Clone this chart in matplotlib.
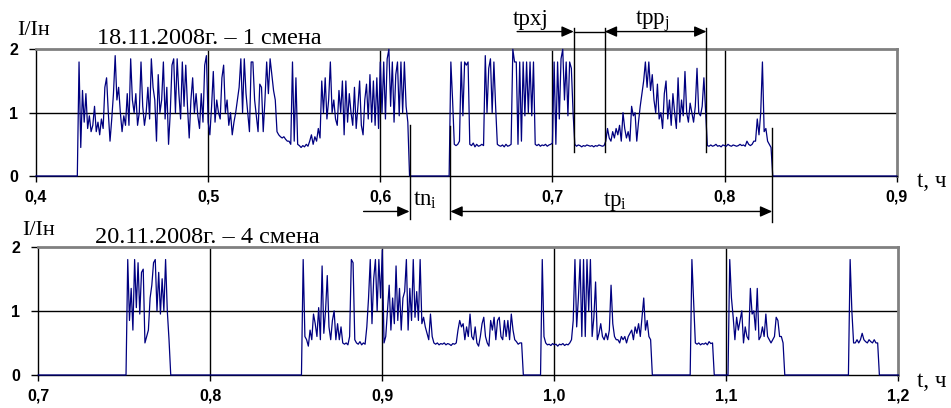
#! /usr/bin/env python3
"""Current load I/In of a machine during two shifts (18.11.2008 and 20.11.2008)."""

import matplotlib.pyplot as plt
import numpy as np

plt.rcParams.update({
    "font.family": "Liberation Serif",
    "mathtext.fontset": "custom",
    "mathtext.rm": "Liberation Serif",
    "mathtext.it": "Liberation Serif:italic",
})

W, H = 951, 408
LINE = "#000080"
GREY = "#808080"

# --- data: time step 0.001 h, each burst starts at the given time ---------
step = 0.001

top_range = (0.4, 0.9)
top_ticks = [0.4, 0.5, 0.6, 0.7, 0.8, 0.9]
top_title = "18.11.2008г. – 1 смена"
top_bursts = {
    0.425: [
        1.80, 0.45, 1.35, 0.85, 1.30, 0.75, 0.95, 0.70, 0.80, 1.10,
        0.70, 0.85, 0.65, 0.90, 0.75, 1.40, 1.55, 1.00, 0.55, 0.90,
        1.30, 1.90, 1.20, 1.40, 1.00, 0.70, 0.95, 0.80, 1.30, 0.80,
        1.85, 1.20, 1.00, 1.30, 0.80, 1.00, 1.80, 1.10, 0.80, 1.00,
        1.40, 0.90, 1.85, 1.40, 1.20, 0.55, 1.60, 1.00, 1.20, 1.80,
        0.90, 1.40, 0.50, 1.00, 1.75, 1.85, 1.00, 1.85, 1.30, 0.90,
        1.80, 1.10, 1.75, 1.10, 0.60, 1.20, 1.55, 1.00, 1.30, 0.95,
        0.75, 1.30, 0.85, 1.75, 1.90, 0.85, 0.65, 1.10, 1.65, 0.85,
        1.20, 1.00, 0.90, 1.55, 1.75, 1.00, 1.20, 0.80, 1.00, 0.65,
        0.85, 1.00, 1.20, 1.40, 1.85, 1.00, 1.85, 1.30, 1.00, 0.70,
        1.80, 1.80, 1.20, 0.95, 0.70, 1.45, 1.40, 0.70, 1.20, 1.80,
        1.30, 1.85, 1.60, 1.35, 1.20, 0.70, 0.65, 0.62, 0.60, 0.62,
        0.58, 0.55, 0.55, 0.50, 1.80, 0.55, 1.55, 0.50, 0.48, 0.45,
        0.48, 0.46, 0.50, 0.47, 0.55, 0.65, 0.50, 0.62, 0.55, 0.75,
        0.60, 1.50, 1.00, 1.55, 0.90, 1.20, 1.80, 1.00, 1.20, 0.90,
        0.80, 1.35, 1.00, 1.50, 0.65, 1.50, 0.85, 1.30, 1.00, 0.80,
        1.40, 0.75, 1.10, 1.50, 0.80, 0.65, 1.20, 1.45, 0.90, 1.60,
        0.85, 1.50, 0.80, 1.55, 0.75, 1.80, 1.00, 1.80, 0.90, 1.85,
        2.00, 1.10, 1.80, 0.85, 1.60, 1.80, 0.95, 1.80, 1.00, 1.80,
        1.10, 0.85,
    ],
    0.641: [
        1.80, 1.20, 0.50, 0.48, 0.50, 0.55, 1.80, 0.95, 1.80, 1.75,
        1.80, 0.50, 0.48, 0.52, 0.46, 0.50, 0.47, 0.48, 0.50, 0.48,
        1.90, 1.00, 1.70, 1.85, 1.00, 1.80, 1.10, 0.50, 0.48, 0.47,
        0.49, 0.46, 0.50, 0.47, 0.48, 0.50, 2.00, 1.80, 1.80, 0.50,
        1.80, 0.55, 1.80, 0.95, 1.80, 1.00, 1.80, 0.95, 1.80, 0.50,
        0.48, 0.50, 0.47, 0.49, 0.48, 0.50, 0.47, 0.49, 0.50, 0.52,
        1.80, 0.50, 1.80, 0.90, 1.85, 2.00, 1.20, 1.80, 0.95, 1.80,
        1.70, 1.00, 0.50, 0.47, 0.49, 0.48, 0.46, 0.48, 0.47, 0.49,
        0.48, 0.47, 0.48, 0.46, 0.48, 0.47, 0.49, 0.48, 0.47, 0.48,
        0.55, 0.75, 0.60, 0.55, 0.70, 0.60, 0.75, 0.65, 0.80, 0.55,
        1.00, 0.75, 0.60, 0.70, 0.55, 1.10, 0.95, 1.00, 0.55, 0.85,
        1.10, 1.30, 1.50, 1.80, 1.40, 1.80, 1.35, 1.60, 1.20, 1.00,
        1.45, 0.90, 1.00, 0.75, 1.30, 1.50, 0.90, 1.20, 0.80, 1.30,
        1.00, 0.75, 1.55, 0.85, 1.20, 0.95, 1.65, 1.00, 0.85, 1.15,
        1.00, 0.85, 1.10, 1.70, 1.00, 0.95, 1.10, 1.55, 1.00, 0.48,
        0.47, 0.49, 0.47, 0.48, 0.50, 0.47, 0.48, 0.46, 0.49, 0.48,
        0.47, 0.50, 0.48, 0.47, 0.49, 0.48, 0.47, 0.48, 0.50, 0.48,
        0.49, 0.47, 0.55, 0.50, 0.48, 0.50, 0.55, 0.55, 0.90, 0.65,
        1.00, 1.80, 0.70, 0.75, 0.55, 0.50, 0.45,
    ],
}

bot_range = (0.7, 1.2)
bot_ticks = [0.7, 0.8, 0.9, 1.0, 1.1, 1.2]
bot_title = "20.11.2008г. – 4 смена"
bot_bursts = {
    0.752: [
        1.80, 0.85, 1.35, 0.70, 1.80, 1.05, 1.75, 0.95, 1.60, 1.65,
        0.50, 0.60, 0.70, 1.20, 1.40, 1.75, 1.80, 1.00, 1.60, 0.95,
        1.50, 1.00, 1.80, 1.00, 0.55,
    ],
    0.854: [
        1.80, 0.60, 0.55, 0.45, 0.70, 0.55, 0.95, 0.80, 0.60, 1.05,
        0.55, 1.70, 0.65, 1.00, 1.55, 0.75, 0.55, 0.85, 1.00, 0.55,
        0.80, 0.55, 0.75, 0.50, 0.48, 0.50, 0.47, 0.60, 1.80, 1.75,
        0.55, 0.50, 0.48, 0.52, 0.47, 0.50, 0.48, 0.75, 1.20, 1.80,
        0.80, 1.50, 1.80, 1.00, 1.80, 1.20, 1.95, 0.50, 0.60, 1.00,
        1.40, 0.70, 1.20, 0.80, 1.70, 0.85, 1.35, 0.70, 1.20, 1.30,
        1.80, 0.70, 1.35, 0.85, 1.80, 0.90, 1.30, 0.85, 1.80, 0.80,
        0.90, 0.75, 0.65, 0.55, 0.95, 0.60, 0.50, 0.48, 0.50, 0.47,
        0.49, 0.48, 0.50, 0.47, 0.49, 0.48, 0.46, 0.49, 0.48, 0.50,
        0.70, 0.85, 0.75, 0.80, 0.55, 0.75, 0.60, 0.95, 0.60, 0.55,
        0.75, 0.50, 0.45, 0.60, 0.80, 0.90, 0.60, 0.50, 0.45, 0.85,
        0.70, 0.90, 0.55, 0.85, 0.90, 0.60, 0.55, 0.85, 0.60, 0.85,
        0.55, 0.95, 0.70, 0.55, 0.52, 0.48, 0.50, 0.50,
    ],
    0.993: [
        1.80, 0.60, 0.50, 0.47, 0.48, 0.46, 0.49, 0.47, 0.48, 0.45,
        0.48, 0.47, 0.49, 0.46, 0.48, 0.47, 0.50, 0.55, 0.85, 1.80,
        0.75, 1.20, 1.80, 0.60, 1.80, 0.60, 1.80, 1.00, 1.80, 0.60,
        0.90, 1.45, 0.55, 0.65, 0.80, 0.60, 0.55, 0.65, 0.55, 0.70,
        1.40, 0.80, 0.60, 0.55, 0.55, 0.50, 0.60, 0.55, 0.60, 0.50,
        0.60, 0.65, 0.70, 0.55, 0.75, 0.65, 0.80, 0.60, 0.90, 1.20,
        0.70, 0.85, 0.60, 0.55,
    ],
    1.080: [
        1.80, 1.15, 0.50, 0.48, 0.50, 0.47, 0.49, 0.48, 0.50, 0.47,
        0.52, 0.49, 0.50,
    ],
    1.102: [
        1.80, 1.20, 0.90, 0.55, 0.90, 0.70, 0.85, 1.00, 0.50, 0.75,
        0.60, 0.55, 1.35, 0.95, 1.00, 0.70, 1.35, 0.55, 0.60, 0.75,
        0.60, 0.95, 0.60, 0.55, 0.50, 0.55, 0.60, 0.90, 0.85, 0.60,
        0.60, 0.50,
    ],
    1.172: [
        1.80, 1.00, 0.50, 0.50, 0.55, 0.50, 0.55, 0.65, 0.55, 0.52,
        0.50, 0.55, 0.52, 0.50, 0.55, 0.50, 0.50,
    ],
}


def build_series(t_range, bursts):
    """Zero current everywhere except inside the recorded bursts."""
    n = int(round((t_range[1] - t_range[0]) / step)) + 1
    t = t_range[0] + np.arange(n) * step
    current = np.zeros(n)
    for start, values in bursts.items():
        i0 = int(round((start - t_range[0]) / step))
        current[i0:i0 + len(values)] = values
    return t, current


def fig_text(x, y, s, **kw):
    """Text placed in figure pixels measured from the top-left corner."""
    kw.setdefault("fontsize", 16)
    kw.setdefault("va", "baseline")
    fig.text(x / W, 1 - y / H, s, **kw)


def draw_panel(ax, t_range, ticks, bursts):
    t, current = build_series(t_range, bursts)
    ax.set_xlim(*t_range)
    ax.set_ylim(0, 2)
    for tick in ticks[1:-1]:
        ax.axvline(tick, color="black", lw=1, zorder=1)
    ax.axhline(1, color="black", lw=1, zorder=1)
    ax.plot(t, current, color=LINE, lw=0.9, zorder=3, clip_on=False)

    ax.set_xticks(ticks)
    ax.set_xticklabels([f"{tick:.1f}".replace(".", ",") for tick in ticks])
    ax.set_yticks([0, 1, 2])
    for label in ax.get_xticklabels() + ax.get_yticklabels():
        label.set_family("Liberation Sans")
        label.set_fontweight("bold")
        label.set_fontsize(11.5)
    ax.tick_params(axis="x", direction="out", length=4, width=1, pad=6)
    ax.tick_params(axis="y", direction="out", length=5, width=1, pad=8)

    for side in ("top", "right"):
        ax.spines[side].set_color(GREY)
        ax.spines[side].set_linewidth(2)
    for side in ("left", "bottom"):
        ax.spines[side].set_color("black")
        ax.spines[side].set_linewidth(1)


def arrow(ax, x0, x1, y, style):
    ax.annotate(
        "", xy=(x1, y), xytext=(x0, y), annotation_clip=False,
        arrowprops=dict(arrowstyle=style, color="black", lw=1,
                        shrinkA=0, shrinkB=0, mutation_scale=10),
    )


def marker(ax, x, y0, y1):
    ax.plot([x, x], [y0, y1], color="black", lw=1, clip_on=False, zorder=4)


fig = plt.figure(figsize=(W / 100, H / 100), dpi=100)
ax_top = fig.add_axes([36 / W, 1 - 176 / H, 860.7 / W, 126.7 / H])
ax_bot = fig.add_axes([38.3 / W, 1 - 375 / H, 860 / W, 128.3 / H])

draw_panel(ax_top, top_range, top_ticks, top_bursts)
draw_panel(ax_bot, bot_range, bot_ticks, bot_bursts)

# time-interval markers on the first shift
head = "-|>,head_length=0.72,head_width=0.32"
both = "<|-|>,head_length=0.72,head_width=0.32"
marker(ax_top, 0.6170, 0.80, -0.68)
marker(ax_top, 0.6407, 0.79, -0.68)
marker(ax_top, 0.8277, 0.76, -0.72)
marker(ax_top, 0.7124, 2.34, 0.38)
marker(ax_top, 0.7304, 2.34, 0.38)
marker(ax_top, 0.7895, 2.34, 0.38)
arrow(ax_top, 0.6795, 0.7124, 2.28, head)
ax_top.plot([0.7124, 0.7304], [2.28, 2.28], color="black", lw=1, clip_on=False)
arrow(ax_top, 0.7304, 0.7895, 2.28, both)
arrow(ax_top, 0.5903, 0.6170, -0.56, head)
arrow(ax_top, 0.6407, 0.8277, -0.56, both)

fig_text(513, 25, "tpxj", fontsize=16.5)
fig_text(635, 25, r"tpp$_{\mathrm{j}}$", fontsize=16.5)
fig_text(413, 206, r"tn$_{\mathrm{i}}$", fontsize=16.5)
fig_text(603, 206, r"tp$_{\mathrm{i}}$", fontsize=16.5)

# panel captions
fig_text(17, 35, "I/Iн")
fig_text(97, 44, top_title, fontsize=17.5)
fig_text(917, 187, "t, ч", fontsize=16.5)
fig_text(22, 235, "I/Iн")
fig_text(95, 243, bot_title, fontsize=17.5)
fig_text(917, 387, "t, ч", fontsize=16.5)

fig.savefig("out.png", dpi=100)
